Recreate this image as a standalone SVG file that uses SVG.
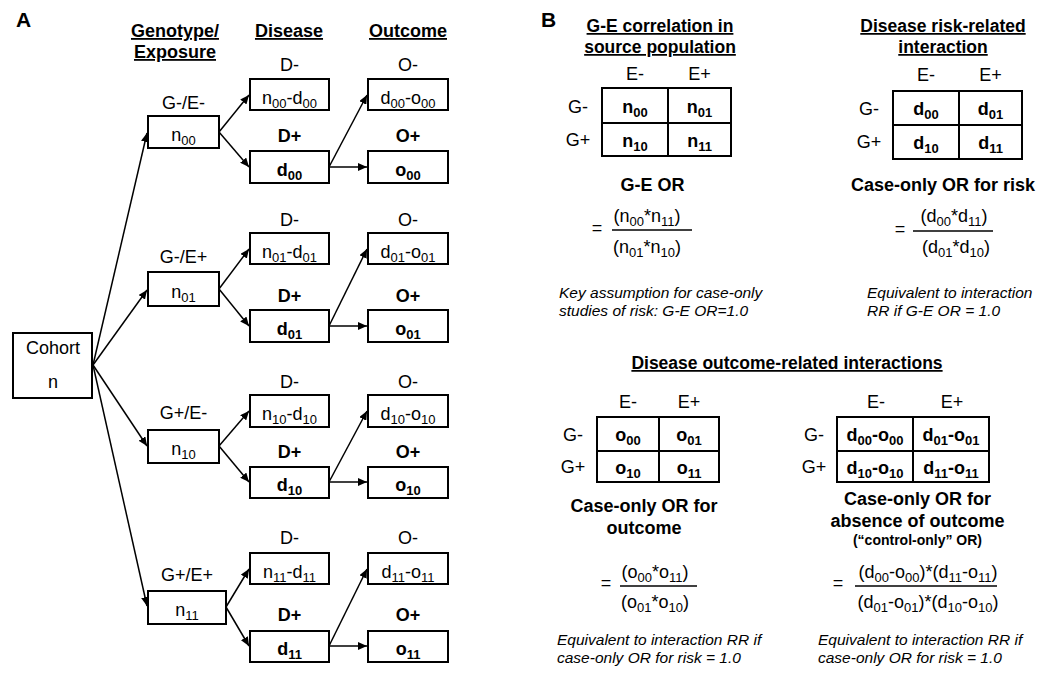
<svg xmlns="http://www.w3.org/2000/svg" width="1050" height="695" viewBox="0 0 1050 695">
<defs>
<style>
text{font-family:"Liberation Sans",Arial,sans-serif;fill:#000;}
.t{font-size:18px;text-anchor:middle;}
.b{font-weight:bold;}
.s{font-size:13px;}
.h{font-size:18px;font-weight:bold;text-anchor:middle;text-decoration:underline;}
.hb{font-size:17.5px;font-weight:bold;text-anchor:middle;text-decoration:underline;}
.lab{font-size:21px;font-weight:bold;}
.note{font-size:15.5px;font-style:italic;}
.box{fill:#fff;stroke:#000;stroke-width:2;}
.tbl{fill:none;stroke:#000;stroke-width:2;}
.c{stroke:#000;stroke-width:1.5;fill:none;marker-end:url(#ah);}
.fl{stroke:#000;stroke-width:1.3;}
</style>
<marker id="ah" markerWidth="9" markerHeight="8" refX="9" refY="4" orient="auto" markerUnits="userSpaceOnUse">
<path d="M0,0 L9,4 L0,8 z" fill="#000"/>
</marker>
</defs>
<rect width="1050" height="695" fill="#fff"/>

<text class="lab" x="16" y="27">A</text>
<text class="lab" x="541" y="27">B</text>

<g id="headersA">
<text class="h" x="175" y="37">Genotype/</text>
<text class="h" x="175" y="58">Exposure</text>
<text class="h" x="289" y="37">Disease</text>
<text class="h" x="408" y="37">Outcome</text>
</g>

<g id="connectors">
<line class="c" x1="93" y1="365" x2="147" y2="133"/>
<line class="c" x1="93" y1="365" x2="147" y2="290"/>
<line class="c" x1="93" y1="365" x2="147" y2="446"/>
<line class="c" x1="93" y1="365" x2="147" y2="606"/>
<line class="c" x1="219" y1="132" x2="249" y2="95"/>
<line class="c" x1="219" y1="132" x2="249" y2="167"/>
<line class="c" x1="329" y1="167" x2="367" y2="95"/>
<line class="c" x1="329" y1="167" x2="367" y2="167"/>
<line class="c" x1="219" y1="289" x2="249" y2="249"/>
<line class="c" x1="219" y1="289" x2="249" y2="326"/>
<line class="c" x1="329" y1="326" x2="367" y2="249"/>
<line class="c" x1="329" y1="326" x2="367" y2="326"/>
<line class="c" x1="219" y1="446" x2="249" y2="411"/>
<line class="c" x1="219" y1="446" x2="249" y2="482"/>
<line class="c" x1="329" y1="482" x2="367" y2="411"/>
<line class="c" x1="329" y1="482" x2="367" y2="482"/>
<line class="c" x1="226" y1="607" x2="249" y2="569"/>
<line class="c" x1="226" y1="607" x2="249" y2="646"/>
<line class="c" x1="329" y1="646" x2="367" y2="569"/>
<line class="c" x1="329" y1="646" x2="367" y2="646"/>
</g>

<g id="cohort">
<rect class="box" x="13" y="333" width="79" height="65"/>
<text class="t" x="53" y="354">Cohort</text>
<text class="t" x="53" y="388">n</text>
</g>

<!-- Row 1 -->
<g id="g00">
<text class="t" x="183.5" y="109">G-/E-</text>
<rect class="box" x="148" y="116" width="71" height="32"/>
<text class="t" x="183.5" y="141">n<tspan class="s" dy="4">00</tspan></text>
</g>
<g id="dm00">
<text class="t" x="289.5" y="71">D-</text>
<rect class="box" x="250" y="79" width="79" height="31"/>
<text class="t" x="289.5" y="104">n<tspan class="s" dy="4">00</tspan><tspan dy="-4">-d</tspan><tspan class="s" dy="4">00</tspan></text>
</g>
<g id="dp00">
<text class="t b" x="289.5" y="142">D+</text>
<rect class="box" x="250" y="151" width="79" height="32"/>
<text class="t b" x="289.5" y="176">d<tspan class="s" dy="4">00</tspan></text>
</g>
<g id="om00">
<text class="t" x="408" y="71">O-</text>
<rect class="box" x="368" y="79" width="80" height="31"/>
<text class="t" x="408" y="104">d<tspan class="s" dy="4">00</tspan><tspan dy="-4">-o</tspan><tspan class="s" dy="4">00</tspan></text>
</g>
<g id="op00">
<text class="t b" x="408" y="142">O+</text>
<rect class="box" x="368" y="151" width="80" height="32"/>
<text class="t b" x="408" y="176">o<tspan class="s" dy="4">00</tspan></text>
</g>

<!-- Row 2 -->
<g id="g01">
<text class="t" x="183.5" y="263">G-/E+</text>
<rect class="box" x="148" y="272" width="71" height="34"/>
<text class="t" x="183.5" y="298">n<tspan class="s" dy="4">01</tspan></text>
</g>
<g id="dm01">
<text class="t" x="289.5" y="226">D-</text>
<rect class="box" x="250" y="233" width="79" height="31"/>
<text class="t" x="289.5" y="258">n<tspan class="s" dy="4">01</tspan><tspan dy="-4">-d</tspan><tspan class="s" dy="4">01</tspan></text>
</g>
<g id="dp01">
<text class="t b" x="289.5" y="302">D+</text>
<rect class="box" x="250" y="310" width="79" height="32"/>
<text class="t b" x="289.5" y="335">d<tspan class="s" dy="4">01</tspan></text>
</g>
<g id="om01">
<text class="t" x="408" y="226">O-</text>
<rect class="box" x="368" y="233" width="80" height="31"/>
<text class="t" x="408" y="258">d<tspan class="s" dy="4">01</tspan><tspan dy="-4">-o</tspan><tspan class="s" dy="4">01</tspan></text>
</g>
<g id="op01">
<text class="t b" x="408" y="302">O+</text>
<rect class="box" x="368" y="310" width="80" height="32"/>
<text class="t b" x="408" y="335">o<tspan class="s" dy="4">01</tspan></text>
</g>

<!-- Row 3 -->
<g id="g10">
<text class="t" x="183.5" y="419">G+/E-</text>
<rect class="box" x="148" y="430" width="71" height="33"/>
<text class="t" x="183.5" y="455">n<tspan class="s" dy="4">10</tspan></text>
</g>
<g id="dm10">
<text class="t" x="289.5" y="388">D-</text>
<rect class="box" x="250" y="395" width="79" height="32"/>
<text class="t" x="289.5" y="420">n<tspan class="s" dy="4">10</tspan><tspan dy="-4">-d</tspan><tspan class="s" dy="4">10</tspan></text>
</g>
<g id="dp10">
<text class="t b" x="289.5" y="458">D+</text>
<rect class="box" x="250" y="467" width="79" height="31"/>
<text class="t b" x="289.5" y="491">d<tspan class="s" dy="4">10</tspan></text>
</g>
<g id="om10">
<text class="t" x="408" y="388">O-</text>
<rect class="box" x="368" y="395" width="80" height="32"/>
<text class="t" x="408" y="420">d<tspan class="s" dy="4">10</tspan><tspan dy="-4">-o</tspan><tspan class="s" dy="4">10</tspan></text>
</g>
<g id="op10">
<text class="t b" x="408" y="458">O+</text>
<rect class="box" x="368" y="467" width="80" height="31"/>
<text class="t b" x="408" y="491">o<tspan class="s" dy="4">10</tspan></text>
</g>

<!-- Row 4 -->
<g id="g11">
<text class="t" x="187" y="581">G+/E+</text>
<rect class="box" x="148" y="591" width="78" height="33"/>
<text class="t" x="187" y="616">n<tspan class="s" dy="4">11</tspan></text>
</g>
<g id="dm11">
<text class="t" x="289.5" y="544">D-</text>
<rect class="box" x="250" y="553" width="79" height="31"/>
<text class="t" x="289.5" y="578">n<tspan class="s" dy="4">11</tspan><tspan dy="-4">-d</tspan><tspan class="s" dy="4">11</tspan></text>
</g>
<g id="dp11">
<text class="t b" x="289.5" y="621">D+</text>
<rect class="box" x="250" y="631" width="79" height="31"/>
<text class="t b" x="289.5" y="655">d<tspan class="s" dy="4">11</tspan></text>
</g>
<g id="om11">
<text class="t" x="408" y="544">O-</text>
<rect class="box" x="368" y="553" width="80" height="31"/>
<text class="t" x="408" y="578">d<tspan class="s" dy="4">11</tspan><tspan dy="-4">-o</tspan><tspan class="s" dy="4">11</tspan></text>
</g>
<g id="op11">
<text class="t b" x="408" y="621">O+</text>
<rect class="box" x="368" y="631" width="80" height="31"/>
<text class="t b" x="408" y="655">o<tspan class="s" dy="4">11</tspan></text>
</g>

<!-- Panel B: G-E correlation -->
<g id="ge">
<text class="hb" x="660" y="32">G-E correlation in</text>
<text class="hb" x="660" y="53">source population</text>
<text class="t" x="635" y="80">E-</text>
<text class="t" x="699.5" y="80">E+</text>
<text class="t" x="578" y="113">G-</text>
<text class="t" x="578" y="146">G+</text>
<rect class="tbl" x="602" y="88" width="129" height="68"/>
<line class="tbl" x1="668" y1="88" x2="668" y2="156"/>
<line class="tbl" x1="602" y1="123" x2="731" y2="123"/>
<text class="t b" x="635" y="113">n<tspan class="s" dy="4">00</tspan></text>
<text class="t b" x="699.5" y="113">n<tspan class="s" dy="4">01</tspan></text>
<text class="t b" x="635" y="147">n<tspan class="s" dy="4">10</tspan></text>
<text class="t b" x="699.5" y="147">n<tspan class="s" dy="4">11</tspan></text>
<text class="t b" x="652.5" y="191">G-E OR</text>
<text class="t" x="597" y="234">=</text>
<line class="fl" x1="612" y1="230" x2="692" y2="230"/>
<text class="t" x="647" y="222">(n<tspan class="s" dy="4">00</tspan><tspan dy="-4">*n</tspan><tspan class="s" dy="4">11</tspan><tspan dy="-4">)</tspan></text>
<text class="t" x="647" y="253">(n<tspan class="s" dy="4">01</tspan><tspan dy="-4">*n</tspan><tspan class="s" dy="4">10</tspan><tspan dy="-4">)</tspan></text>
<text class="note" x="559" y="298">Key assumption for case-only</text>
<text class="note" x="559" y="316">studies of risk: G-E OR=1.0</text>
</g>

<!-- Panel B: Disease risk -->
<g id="risk">
<text class="hb" x="943" y="32">Disease risk-related</text>
<text class="hb" x="943" y="53">interaction</text>
<text class="t" x="926" y="81">E-</text>
<text class="t" x="990.5" y="81">E+</text>
<text class="t" x="869" y="115">G-</text>
<text class="t" x="869" y="148">G+</text>
<rect class="tbl" x="893" y="91" width="129" height="68"/>
<line class="tbl" x1="959" y1="91" x2="959" y2="159"/>
<line class="tbl" x1="893" y1="125" x2="1022" y2="125"/>
<text class="t b" x="926" y="115">d<tspan class="s" dy="4">00</tspan></text>
<text class="t b" x="990.5" y="115">d<tspan class="s" dy="4">01</tspan></text>
<text class="t b" x="926" y="149">d<tspan class="s" dy="4">10</tspan></text>
<text class="t b" x="990.5" y="149">d<tspan class="s" dy="4">11</tspan></text>
<text class="t b" x="943" y="191">Case-only OR for risk</text>
<text class="t" x="900" y="235">=</text>
<line class="fl" x1="913" y1="231" x2="993" y2="231"/>
<text class="t" x="954" y="222">(d<tspan class="s" dy="4">00</tspan><tspan dy="-4">*d</tspan><tspan class="s" dy="4">11</tspan><tspan dy="-4">)</tspan></text>
<text class="t" x="956" y="253">(d<tspan class="s" dy="4">01</tspan><tspan dy="-4">*d</tspan><tspan class="s" dy="4">10</tspan><tspan dy="-4">)</tspan></text>
<text class="note" x="867" y="298">Equivalent to interaction</text>
<text class="note" x="867" y="316">RR if G-E OR = 1.0</text>
</g>

<text class="hb" x="787" y="369">Disease outcome-related interactions</text>

<!-- Panel B: outcome -->
<g id="outcome">
<text class="t" x="628" y="408">E-</text>
<text class="t" x="689" y="408">E+</text>
<text class="t" x="573" y="441">G-</text>
<text class="t" x="573" y="473">G+</text>
<rect class="tbl" x="597" y="417" width="122" height="65"/>
<line class="tbl" x1="659" y1="417" x2="659" y2="482"/>
<line class="tbl" x1="597" y1="451" x2="719" y2="451"/>
<text class="t b" x="628" y="441">o<tspan class="s" dy="4">00</tspan></text>
<text class="t b" x="689" y="441">o<tspan class="s" dy="4">01</tspan></text>
<text class="t b" x="628" y="474">o<tspan class="s" dy="4">10</tspan></text>
<text class="t b" x="689" y="474">o<tspan class="s" dy="4">11</tspan></text>
<text class="t b" x="644" y="512">Case-only OR for</text>
<text class="t b" x="644" y="534">outcome</text>
<text class="t" x="606" y="589">=</text>
<line class="fl" x1="620" y1="586" x2="697" y2="586"/>
<text class="t" x="655" y="578">(o<tspan class="s" dy="4">00</tspan><tspan dy="-4">*o</tspan><tspan class="s" dy="4">11</tspan><tspan dy="-4">)</tspan></text>
<text class="t" x="655" y="608">(o<tspan class="s" dy="4">01</tspan><tspan dy="-4">*o</tspan><tspan class="s" dy="4">10</tspan><tspan dy="-4">)</tspan></text>
<text class="note" x="557" y="645">Equivalent to interaction RR if</text>
<text class="note" x="557" y="663">case-only OR for risk = 1.0</text>
</g>

<!-- Panel B: absence of outcome -->
<g id="absence">
<text class="t" x="876" y="408">E-</text>
<text class="t" x="952" y="408">E+</text>
<text class="t" x="814" y="441">G-</text>
<text class="t" x="814" y="473">G+</text>
<rect class="tbl" x="837" y="417" width="152" height="65"/>
<line class="tbl" x1="913" y1="417" x2="913" y2="482"/>
<line class="tbl" x1="837" y1="451" x2="989" y2="451"/>
<text class="t b" x="875" y="441">d<tspan class="s" dy="4">00</tspan><tspan dy="-4">-o</tspan><tspan class="s" dy="4">00</tspan></text>
<text class="t b" x="951" y="441">d<tspan class="s" dy="4">01</tspan><tspan dy="-4">-o</tspan><tspan class="s" dy="4">01</tspan></text>
<text class="t b" x="875" y="474">d<tspan class="s" dy="4">10</tspan><tspan dy="-4">-o</tspan><tspan class="s" dy="4">10</tspan></text>
<text class="t b" x="951" y="474">d<tspan class="s" dy="4">11</tspan><tspan dy="-4">-o</tspan><tspan class="s" dy="4">11</tspan></text>
<text class="t b" x="917.5" y="505">Case-only OR for</text>
<text class="t b" x="917.5" y="527">absence of outcome</text>
<text class="t b" x="917.5" y="545" style="font-size:14px">(“control-only” OR)</text>
<text class="t" x="838" y="589">=</text>
<line class="fl" x1="855" y1="586" x2="997" y2="586"/>
<text class="t" x="928" y="578">(d<tspan class="s" dy="4">00</tspan><tspan dy="-4">-o</tspan><tspan class="s" dy="4">00</tspan><tspan dy="-4">)*(d</tspan><tspan class="s" dy="4">11</tspan><tspan dy="-4">-o</tspan><tspan class="s" dy="4">11</tspan><tspan dy="-4">)</tspan></text>
<text class="t" x="928" y="608">(d<tspan class="s" dy="4">01</tspan><tspan dy="-4">-o</tspan><tspan class="s" dy="4">01</tspan><tspan dy="-4">)*(d</tspan><tspan class="s" dy="4">10</tspan><tspan dy="-4">-o</tspan><tspan class="s" dy="4">10</tspan><tspan dy="-4">)</tspan></text>
<text class="note" x="818" y="645">Equivalent to interaction RR if</text>
<text class="note" x="818" y="663">case-only OR for risk = 1.0</text>
</g>
</svg>
